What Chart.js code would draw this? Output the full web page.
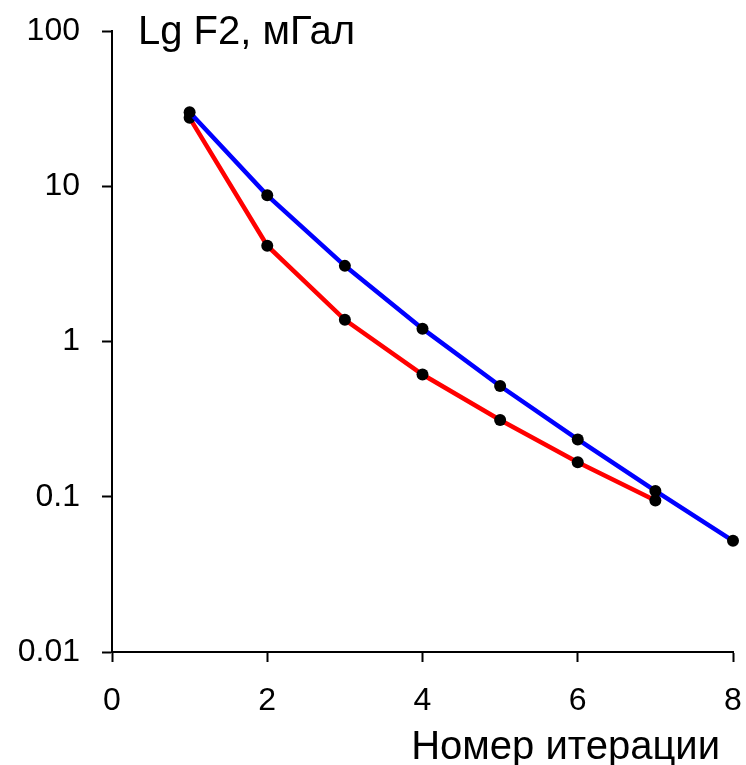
<!DOCTYPE html>
<html>
<head>
<meta charset="utf-8">
<script src="https://cdn.jsdelivr.net/npm/chart.js@4"></script>
<style>
  html, body { margin: 0; padding: 0; background: #fff; }
  #wrap { width: 746px; height: 765px; }
</style>
</head>
<body>
<div id="wrap"><canvas id="c" width="746" height="765"></canvas></div>
<script>
// Data
const iterations = [1, 2, 3, 4, 5, 6, 7, 8];
const blueValues = [30.0, 8.74, 3.07, 1.21, 0.517, 0.234, 0.109, 0.052];
const redIterations = [1, 2, 3, 4, 5, 6, 7];
const redValues = [27.6, 4.14, 1.38, 0.613, 0.312, 0.167, 0.0946];
const xTickValues = [0, 2, 4, 6, 8];
const yTickValues = [0.01, 0.1, 1, 10, 100];
const yTickLabels = ['0.01', '0.1', '1', '10', '100'];
const yAxisTitle = 'Lg F2, мГал';
const xAxisTitle = 'Номер итерации';

const FONT = "'Liberation Sans', Arial, sans-serif";

const toPts = (xs, ys) => xs.map((x, i) => ({ x: x, y: ys[i] }));

const titlesPlugin = {
  id: 'axisTitles',
  afterDraw(chart) {
    const ctx = chart.ctx;
    const ys = chart.scales.y;
    const xs = chart.scales.x;
    const top = ys.getPixelForValue(100);
    ctx.save();
    ctx.fillStyle = '#000';
    ctx.font = '40px ' + FONT;
    ctx.textAlign = 'left';
    ctx.textBaseline = 'alphabetic';
    ctx.fillText(yAxisTitle, chart.chartArea.left + 26, top + 13);
    ctx.textAlign = 'right';
    ctx.fillText(xAxisTitle, xs.getPixelForValue(8) - 13, chart.height - 6);
    ctx.restore();
  }
};

const pointStyle = {
  showLine: true,
  borderWidth: 4.5,
  pointBackgroundColor: '#000',
  pointBorderColor: '#000',
  pointRadius: 6,
  pointBorderWidth: 0,
  clip: false
};

new Chart(document.getElementById('c'), {
  type: 'scatter',
  data: {
    datasets: [
      Object.assign({ data: toPts(iterations, blueValues), borderColor: '#0000ff' }, pointStyle),
      Object.assign({ data: toPts(redIterations, redValues), borderColor: '#ff0000' }, pointStyle)
    ]
  },
  options: {
    responsive: false,
    animation: false,
    layout: { autoPadding: false, padding: { top: 31, right: 13, left: 0, bottom: 0 } },
    plugins: {
      legend: { display: false },
      tooltip: { enabled: false },
      title: { display: false }
    },
    scales: {
      x: {
        type: 'linear',
        min: 0,
        max: 8,
        afterBuildTicks: (s) => { s.ticks = xTickValues.map(v => ({ value: v })); },
        afterFit: (s) => { s.height = 113; s.paddingLeft = 0; s.paddingRight = 0; },
        border: { display: true, color: '#000', width: 2 },
        grid: { drawOnChartArea: false, drawTicks: true, tickLength: 10, color: '#000', tickWidth: 2 },
        ticks: { color: '#000', font: { family: FONT, size: 32 }, padding: 20, maxRotation: 0 },
        title: { display: false }
      },
      y: {
        type: 'logarithmic',
        min: 0.01,
        max: 100,
        afterBuildTicks: (s) => { s.ticks = yTickValues.map(v => ({ value: v })); },
        afterFit: (s) => { s.width = 112; s.paddingTop = 0; s.paddingBottom = 0; },
        border: { display: true, color: '#000', width: 2 },
        grid: { drawOnChartArea: false, drawTicks: true, tickLength: 10, color: '#000', tickWidth: 2 },
        ticks: {
          color: '#000',
          font: { family: FONT, size: 32 },
          padding: 22,
          callback: (v) => { const i = yTickValues.indexOf(v); return i >= 0 ? yTickLabels[i] : ''; }
        }
      }
    }
  },
  plugins: [titlesPlugin]
});
</script>
</body>
</html>
